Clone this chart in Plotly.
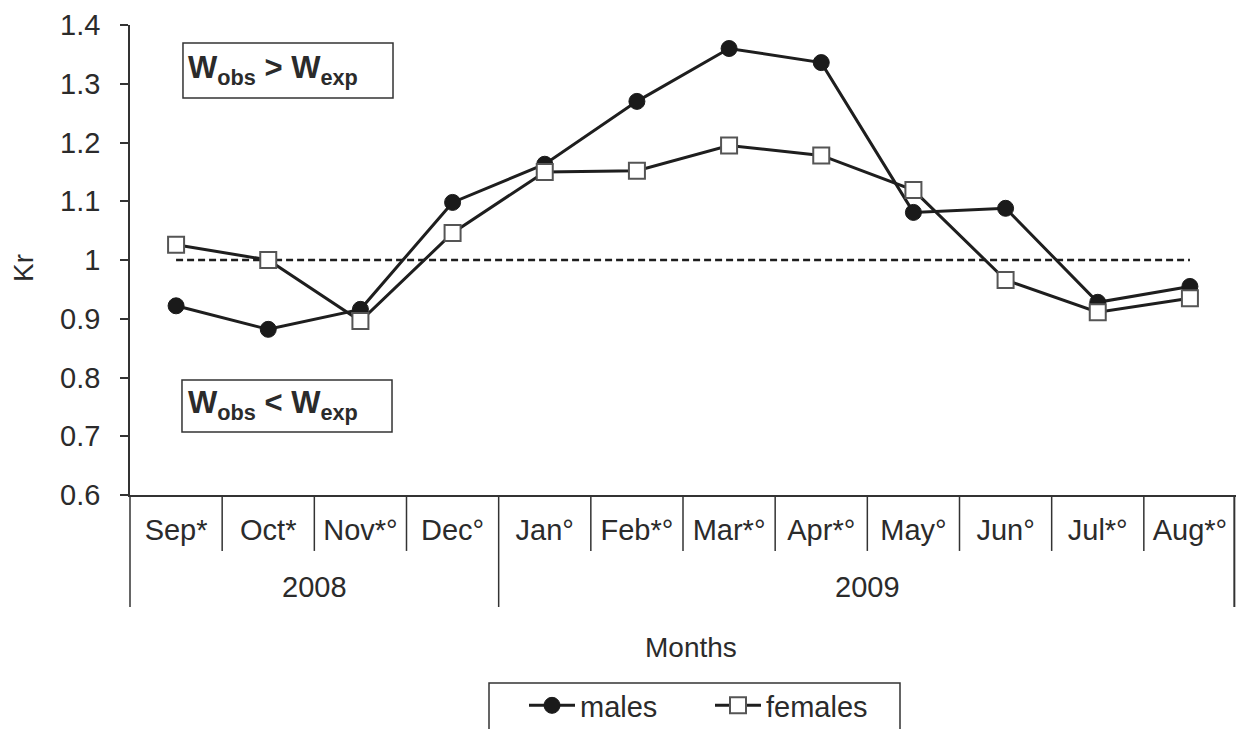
import plotly.graph_objects as go

# ---- data ----
months = ["Sep*", "Oct*", "Nov*°", "Dec°", "Jan°", "Feb*°", "Mar*°", "Apr*°", "May°", "Jun°", "Jul*°", "Aug*°"]
years = ["2008", "2009"]
year_first_idx = [0, 4]
year_last_idx = [3, 11]
males = [0.922, 0.882, 0.916, 1.098, 1.163, 1.270, 1.360, 1.336, 1.081, 1.088, 0.928, 0.955]
females = [1.026, 1.000, 0.896, 1.046, 1.150, 1.152, 1.195, 1.178, 1.119, 0.966, 0.911, 0.935]
ref_level = [1.0] * 12
ytick_vals = [0.6, 0.7, 0.8, 0.9, 1.0, 1.1, 1.2, 1.3, 1.4]
ytick_text = ["0.6", "0.7", "0.8", "0.9", "1", "1.1", "1.2", "1.3", "1.4"]

FONT = "Liberation Sans, Arial, sans-serif"
TXT = "#2b2b2b"
LINE = "#1e1e1e"
FS = 29

fig = go.Figure()
fig.add_trace(go.Scatter(x=months, y=ref_level, mode="lines", showlegend=False,
                         line=dict(color=LINE, width=2.5, dash="7px,4px"), hoverinfo="skip"))
fig.add_trace(go.Scatter(x=months, y=males, mode="lines+markers", name="males",
                         line=dict(color=LINE, width=3),
                         marker=dict(symbol="circle", size=16, color="#1a1a1a",
                                     line=dict(color="#1a1a1a", width=1))))
fig.add_trace(go.Scatter(x=months, y=females, mode="lines+markers", name="females",
                         line=dict(color=LINE, width=3),
                         marker=dict(symbol="square", size=16, color="white",
                                     line=dict(color="#555555", width=2))))

n = len(months)
shapes = []
group_edges = {0, 4, 12}
for i in range(n + 1):
    xp = i / n
    if i == n:
        xp = 0.9985
    y1 = -0.2383 if i in group_edges else -0.119
    shapes.append(dict(type="line", xref="paper", yref="paper", x0=xp, x1=xp, y0=0, y1=y1,
                       line=dict(color="#333333", width=2 if i == n else 1.5)))
# annotation boxes
shapes.append(dict(type="rect", xref="paper", yref="paper", x0=0.0479, x1=0.2378, y0=0.8447, y1=0.9617,
                   line=dict(color="#333333", width=1.5), fillcolor="white", layer="below"))
shapes.append(dict(type="rect", xref="paper", yref="paper", x0=0.0470, x1=0.2369, y0=0.134, y1=0.2447,
                   line=dict(color="#333333", width=1.5), fillcolor="white", layer="below"))
# legend frame
shapes.append(dict(type="rect", xref="paper", yref="paper", x0=(489 - 130) / 1106, x1=(900 - 130) / 1106,
                   y0=-0.52, y1=-0.40, line=dict(color="#333333", width=1.5), fillcolor="rgba(0,0,0,0)"))

annotations = []
for yr, a, b in zip(years, year_first_idx, year_last_idx):
    annotations.append(dict(text=yr, xref="paper", yref="paper", x=((a + b) / 2 + 0.5) / n, y=-0.1957,
                            showarrow=False, xanchor="center", yanchor="middle",
                            font=dict(size=FS, color=TXT, family=FONT)))
annotations.append(dict(text="Months", xref="paper", yref="paper", x=0.507, y=-0.325, showarrow=False,
                        xanchor="center", yanchor="middle", font=dict(size=FS - 1, color=TXT, family=FONT)))
annotations.append(dict(text="Kr", xref="paper", yref="paper", x=(23 - 130) / 1106, y=(495 - 268) / 470,
                        showarrow=False, textangle=-90, xanchor="center", yanchor="middle",
                        font=dict(size=FS - 1, color=TXT, family=FONT)))
annotations.append(dict(text="<b>W<sub>obs</sub> > W<sub>exp</sub></b>", xref="paper", yref="paper",
                        x=0.0505, y=0.905, showarrow=False, xanchor="left", yanchor="middle",
                        font=dict(size=31, color=TXT, family=FONT)))
annotations.append(dict(text="<b>W<sub>obs</sub> &lt; W<sub>exp</sub></b>", xref="paper", yref="paper",
                        x=0.0505, y=0.192, showarrow=False, xanchor="left", yanchor="middle",
                        font=dict(size=31, color=TXT, family=FONT)))

fig.update_layout(
    width=1240, height=729,
    margin=dict(l=130, r=4, t=25, b=234),
    paper_bgcolor="white", plot_bgcolor="white",
    font=dict(family=FONT, color=TXT, size=FS),
    showlegend=True,
    legend=dict(orientation="h", xref="paper", x=(524 - 130) / 1106, xanchor="left",
                yref="container", y=1 - 680 / 729, yanchor="top",
                borderwidth=0, font=dict(size=FS, color=TXT, family=FONT),
                bgcolor="rgba(0,0,0,0)", itemwidth=46, entrywidth=125),
    xaxis=dict(type="category", range=[-0.5, n - 0.5], showline=True, linecolor="#333333", linewidth=1.5,
               showgrid=False, zeroline=False, ticks="", tickfont=dict(size=FS, color=TXT, family=FONT),
               ticklabelstandoff=8),
    yaxis=dict(range=[0.6, 1.4], tickvals=ytick_vals, ticktext=ytick_text, showline=True,
               linecolor="#333333", linewidth=1.5, ticks="outside", ticklen=8, tickwidth=1.5,
               tickcolor="#333333", showgrid=False, zeroline=False,
               tickfont=dict(size=FS, color=TXT, family=FONT), ticklabelstandoff=14),
    shapes=shapes, annotations=annotations,
)

fig.write_html("out.html", config={"displayModeBar": False},
               post_script="document.body.style.margin='0';document.body.style.overflow='hidden';")
